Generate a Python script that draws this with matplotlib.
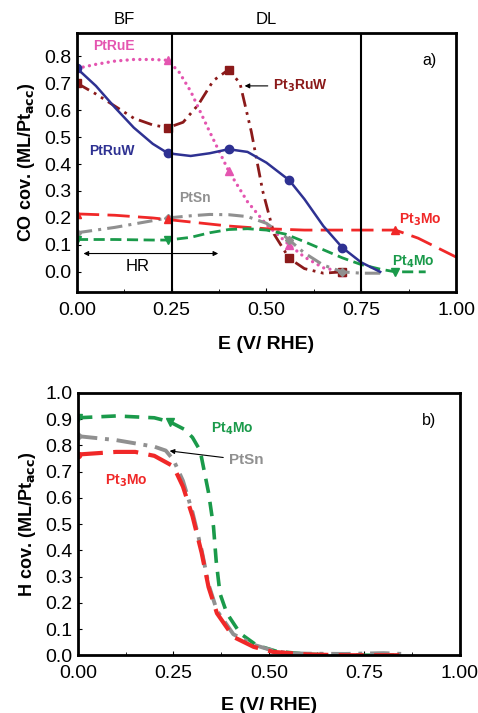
import matplotlib
matplotlib.use("Agg")
import matplotlib.pyplot as plt
from matplotlib.ticker import MultipleLocator

plt.rcParams['font.family'] = ['Liberation Sans', 'DejaVu Sans']

# ---------------- Panel a) CO coverage ----------------
ptruw_x = [0.0, 0.05, 0.10, 0.15, 0.20, 0.24, 0.30, 0.35, 0.40, 0.45, 0.50, 0.56, 0.60, 0.65, 0.70, 0.75, 0.80]
ptruw_y = [0.755, 0.69, 0.61, 0.535, 0.475, 0.44, 0.43, 0.44, 0.455, 0.445, 0.405, 0.34, 0.27, 0.17, 0.09, 0.035, 0.0]
ptruw_mx = [0.0, 0.24, 0.40, 0.56, 0.70]
ptruw_my = [0.755, 0.44, 0.455, 0.34, 0.09]

pt3ruw_x = [0.0, 0.05, 0.10, 0.15, 0.20, 0.24, 0.28, 0.32, 0.36, 0.40, 0.43, 0.46, 0.49, 0.52, 0.56, 0.60, 0.65, 0.70]
pt3ruw_y = [0.70, 0.66, 0.615, 0.57, 0.545, 0.535, 0.555, 0.62, 0.71, 0.75, 0.70, 0.52, 0.30, 0.14, 0.05, 0.012, -0.005, 0.0]
pt3ruw_mx = [0.0, 0.24, 0.40, 0.56, 0.70]
pt3ruw_my = [0.70, 0.535, 0.75, 0.05, 0.0]

ptrue_x = [0.0, 0.05, 0.10, 0.15, 0.20, 0.24, 0.27, 0.30, 0.35, 0.40, 0.45, 0.50, 0.56, 0.60, 0.65, 0.70]
ptrue_y = [0.755, 0.77, 0.782, 0.788, 0.788, 0.785, 0.74, 0.67, 0.52, 0.375, 0.26, 0.175, 0.10, 0.055, 0.015, 0.0]
ptrue_mx = [0.0, 0.24, 0.40, 0.56, 0.70]
ptrue_my = [0.755, 0.785, 0.375, 0.10, 0.0]

ptsn_x = [0.0, 0.10, 0.20, 0.24, 0.30, 0.35, 0.40, 0.45, 0.50, 0.55, 0.60, 0.65, 0.70, 0.75, 0.80]
ptsn_y = [0.145, 0.165, 0.19, 0.20, 0.208, 0.213, 0.212, 0.205, 0.18, 0.13, 0.07, 0.025, 0.0, -0.005, -0.005]
ptsn_mx = [0.0, 0.24, 0.56, 0.70]
ptsn_my = [0.145, 0.20, 0.12, 0.0]

pt3mo_x = [0.0, 0.10, 0.20, 0.30, 0.40, 0.50, 0.60, 0.70, 0.80, 0.84, 0.90, 0.95, 1.00]
pt3mo_y = [0.215, 0.21, 0.20, 0.185, 0.17, 0.16, 0.155, 0.155, 0.155, 0.155, 0.125, 0.09, 0.055]
pt3mo_mx = [0.0, 0.24, 0.84]
pt3mo_my = [0.215, 0.195, 0.155]

pt4mo_x = [0.0, 0.10, 0.20, 0.24, 0.30, 0.35, 0.40, 0.45, 0.50, 0.55, 0.60, 0.65, 0.70, 0.75, 0.80, 0.84, 0.92]
pt4mo_y = [0.12, 0.12, 0.118, 0.118, 0.128, 0.145, 0.157, 0.16, 0.155, 0.14, 0.112, 0.082, 0.052, 0.027, 0.01, 0.0, 0.0]
pt4mo_mx = [0.0, 0.24, 0.84]
pt4mo_my = [0.12, 0.118, 0.0]

# ---------------- Panel b) H coverage ----------------
h_pt4mo_x = [0.0, 0.10, 0.20, 0.24, 0.28, 0.30, 0.32, 0.342, 0.355, 0.362, 0.372, 0.39, 0.425, 0.468, 0.52, 0.60, 0.70, 0.85]
h_pt4mo_y = [0.905, 0.912, 0.905, 0.89, 0.86, 0.83, 0.78, 0.62, 0.49, 0.36, 0.235, 0.16, 0.083, 0.038, 0.015, 0.004, 0.0, 0.0]
h_pt4mo_mx = [0.0, 0.24]
h_pt4mo_my = [0.905, 0.89]

h_pt3mo_x = [0.0, 0.05, 0.10, 0.15, 0.20, 0.25, 0.275, 0.30, 0.324, 0.342, 0.364, 0.407, 0.46, 0.51, 0.60, 0.70, 0.85]
h_pt3mo_y = [0.765, 0.77, 0.775, 0.775, 0.76, 0.72, 0.643, 0.53, 0.39, 0.26, 0.16, 0.07, 0.032, 0.013, 0.003, 0.0, 0.0]
h_pt3mo_mx = [0.0]
h_pt3mo_my = [0.765]

h_ptsn_x = [0.0, 0.10, 0.20, 0.23, 0.25, 0.275, 0.30, 0.324, 0.342, 0.364, 0.407, 0.46, 0.51, 0.55, 0.60, 0.70, 0.80, 0.85]
h_ptsn_y = [0.835, 0.82, 0.795, 0.78, 0.745, 0.665, 0.545, 0.40, 0.27, 0.17, 0.08, 0.04, 0.018, 0.008, 0.006, 0.005, 0.008, 0.005]
h_ptsn_mx = [0.0, 0.54]
h_ptsn_my = [0.835, 0.0]

fig = plt.figure(figsize=(4.78, 7.13), dpi=100)
ax1 = fig.add_axes([0.161, 0.590, 0.793, 0.364])
ax2 = fig.add_axes([0.163, 0.081, 0.799, 0.368])

c_navy = '#2e3192'
c_dred = '#8b1a1a'
c_pink = '#e455b0'
c_gray = '#909090'
c_red = '#f02828'
c_green = '#1a9a4a'

ax1.plot(ptrue_x, ptrue_y, color=c_pink, lw=2.4, ls=(0, (0.01, 1.9)), dash_capstyle='round')
ax1.plot(ptrue_mx, ptrue_my, ls='none', marker='^', color=c_pink, ms=6)
ax1.plot(pt3ruw_x, pt3ruw_y, color=c_dred, lw=2.0, ls=(0, (5, 2, 1, 2, 1, 2)))
ax1.plot(pt3ruw_mx, pt3ruw_my, ls='none', marker='s', color=c_dred, ms=6)
ax1.plot(ptsn_x, ptsn_y, color=c_gray, lw=2.2, ls=(0, (5, 2, 1, 2)))
ax1.plot(ptsn_mx, ptsn_my, ls='none', marker='D', color=c_gray, ms=4.5)
ax1.plot(pt3mo_x, pt3mo_y, color=c_red, lw=2.0, ls=(0, (8, 3)))
ax1.plot(pt3mo_mx, pt3mo_my, ls='none', marker='^', color=c_red, ms=5.5)
ax1.plot(pt4mo_x, pt4mo_y, color=c_green, lw=2.0, ls=(0, (4, 2)))
ax1.plot(pt4mo_mx, pt4mo_my, ls='none', marker='v', color=c_green, ms=6)
ax1.plot(ptruw_x, ptruw_y, color=c_navy, lw=1.8, ls='-')
ax1.plot(ptruw_mx, ptruw_my, ls='none', marker='o', color=c_navy, ms=6)

ax1.axvline(0.25, color='black', lw=1.5)
ax1.axvline(0.75, color='black', lw=1.5)
ax1.annotate('', xy=(0.38, 0.068), xytext=(0.01, 0.068),
             arrowprops=dict(arrowstyle='<|-|>', color='black', lw=0.8, mutation_scale=7))
ax1.text(0.16, 0.02, 'HR', fontsize=12, ha='center', va='center')
ax1.text(0.125, 1.05, 'BF', fontsize=12, ha='center', va='center', transform=ax1.transAxes)
ax1.text(0.50, 1.05, 'DL', fontsize=12, ha='center', va='center', transform=ax1.transAxes)
ax1.text(0.93, 0.785, 'a)', fontsize=11.5, ha='center', va='center')

fs_lab = 10
ax1.text(0.097, 0.837, 'PtRuE', color=c_pink, fontsize=fs_lab, fontweight='bold', ha='center', va='center')
ax1.text(0.092, 0.447, 'PtRuW', color=c_navy, fontsize=fs_lab, fontweight='bold', ha='center', va='center')
ax1.annotate('Pt$_\\mathbf{3}$RuW', xy=(0.435, 0.69), xytext=(0.518, 0.69), color=c_dred,
             fontsize=fs_lab, fontweight='bold', ha='left', va='center',
             arrowprops=dict(arrowstyle='-|>', color='black', lw=0.8, mutation_scale=7))
ax1.text(0.31, 0.273, 'PtSn', color=c_gray, fontsize=fs_lab, fontweight='bold', ha='center', va='center')
ax1.text(0.907, 0.192, 'Pt$_\\mathbf{3}$Mo', color=c_red, fontsize=fs_lab, fontweight='bold', ha='center', va='center')
ax1.text(0.887, 0.037, 'Pt$_\\mathbf{4}$Mo', color=c_green, fontsize=fs_lab, fontweight='bold', ha='center', va='center')

ax1.set_xlim(0, 1)
ax1.set_ylim(-0.076, 0.887)
ax1.set_xticks([0, 0.25, 0.5, 0.75, 1.0])
ax1.set_xticklabels(['0.00', '0.25', '0.50', '0.75', '1.00'])
ax1.set_yticks([0, 0.1, 0.2, 0.3, 0.4, 0.5, 0.6, 0.7, 0.8])
ax1.set_yticklabels(['0.0', '0.1', '0.2', '0.3', '0.4', '0.5', '0.6', '0.7', '0.8'])
ax1.set_xlabel('E (V/ RHE)', fontsize=14, fontweight='bold', labelpad=12)
ax1.set_ylabel('CO cov. (ML/Pt$_\\mathbf{acc}$)', fontsize=13, fontweight='bold', labelpad=5)

# Panel b
ax2.plot(h_pt4mo_x, h_pt4mo_y, color=c_green, lw=2.6, ls=(0, (4, 2.5)))
ax2.plot(h_pt4mo_mx, h_pt4mo_my, ls='none', marker='v', color=c_green, ms=6)
ax2.plot(h_ptsn_x, h_ptsn_y, color=c_gray, lw=2.8, ls=(0, (5, 2, 1, 2)))
ax2.plot(h_ptsn_mx, h_ptsn_my, ls='none', marker='D', color=c_gray, ms=4.5)
ax2.plot(h_pt3mo_x, h_pt3mo_y, color=c_red, lw=3.0, ls=(0, (6, 2.5)))
ax2.plot(h_pt3mo_mx, h_pt3mo_my, ls='none', marker='o', color=c_red, ms=4.5)

ax2.text(0.403, 0.864, 'Pt$_\\mathbf{4}$Mo', color=c_green, fontsize=fs_lab, fontweight='bold', ha='center', va='center')
ax2.annotate('PtSn', xy=(0.233, 0.78), xytext=(0.395, 0.743), color=c_gray,
             fontsize=11, fontweight='bold', ha='left', va='center',
             arrowprops=dict(arrowstyle='-|>', color='black', lw=0.8, mutation_scale=7))
ax2.text(0.126, 0.666, 'Pt$_\\mathbf{3}$Mo', color=c_red, fontsize=fs_lab, fontweight='bold', ha='center', va='center')
ax2.text(0.92, 0.894, 'b)', fontsize=11.5, ha='center', va='center')

ax2.set_xlim(0, 1)
ax2.set_ylim(0, 1.0)
ax2.set_xticks([0, 0.25, 0.5, 0.75, 1.0])
ax2.set_xticklabels(['0.00', '0.25', '0.50', '0.75', '1.00'])
ax2.set_yticks([i / 10 for i in range(11)])
ax2.set_yticklabels(['%.1f' % (i / 10) for i in range(11)])
ax2.set_xlabel('E (V/ RHE)', fontsize=14, fontweight='bold', labelpad=11)
ax2.set_ylabel('H cov. (ML/Pt$_\\mathbf{acc}$)', fontsize=13, fontweight='bold', labelpad=5)

for ax in (ax1, ax2):
    ax.xaxis.set_minor_locator(MultipleLocator(0.125))
    ax.tick_params(which='major', direction='in', length=3, width=0.8, labelsize=14)
    ax.tick_params(axis='x', which='major', pad=7)
    ax.tick_params(axis='y', which='major', pad=4)
    ax.tick_params(which='minor', direction='in', length=2, width=0.6)
    ax.tick_params(axis='x', which='both', top=False)
    ax.tick_params(axis='y', which='both', right=False)
    for sp in ax.spines.values():
        sp.set_linewidth(2.0)

fig.savefig('out.png', dpi=100)
